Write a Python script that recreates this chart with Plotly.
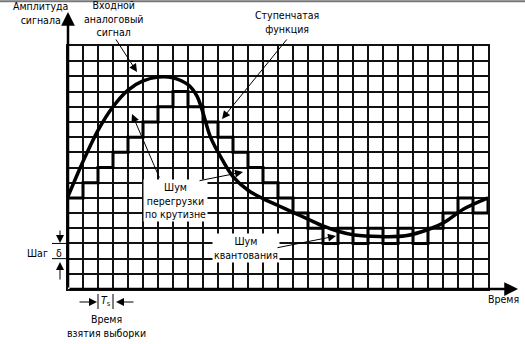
import plotly.graph_objects as go

# ---------------- data ----------------
n_cols = 28          # sampling intervals Ts
n_rows = 16          # quantisation steps (delta)
sample_index = list(range(29))
step_levels = [6, 7, 8, 9, 10, 11, 12, 13, 12, 11, 10, 9, 8, 7, 6, 5, 4, 3,
               4, 3, 4, 3, 4, 3, 4, 5, 6, 5, 6]
signal_t = [0, 1, 2, 3, 4, 5, 6, 7, 8, 8.6, 9, 9.5, 10.35, 11, 12, 13, 14, 15,
            16, 17, 18, 19.1, 20.8, 22.5, 24.1, 25.1, 26.35, 28]
signal_amp = [6.1, 8.4, 10.45, 12.0, 13.1, 13.7, 13.95, 13.9, 13.45, 12.7, 11.6,
              10.0, 8.4, 7.4, 6.5, 5.95, 5.5, 5.05, 4.6, 4.15, 3.8, 3.55, 3.45,
              3.5, 3.95, 4.4, 5.25, 6.0]

# ---------------- geometry helpers (pixels -> paper) ----------------
L, T, W, H = 68, 46, 420, 243
FONT = "Liberation Sans Narrow, DejaVu Sans Condensed, Liberation Sans, Arial"


def px(x):
    return (x - L) / W


def py(y):
    return (T + H - y) / H


fig = go.Figure()
fig.add_trace(go.Scatter(x=signal_t, y=signal_amp, mode="lines",
                         line=dict(color="black", width=3.5, shape="spline", smoothing=0.9),
                         hoverinfo="skip", showlegend=False))
fig.add_trace(go.Scatter(x=sample_index, y=step_levels, mode="lines",
                         line=dict(color="black", width=3, shape="hv"),
                         hoverinfo="skip", showlegend=False))

ax_common = dict(showgrid=True, gridcolor="#111111", gridwidth=1.5, dtick=1,
                 showticklabels=False, ticks="", zeroline=False, showline=True,
                 mirror=True, linecolor="#111111", linewidth=1.6)
fig.update_xaxes(range=[0, n_cols], tick0=0, **ax_common)
fig.update_yaxes(range=[0, n_rows], tick0=0, **ax_common)

anns = []


def text(t, x, y, size=10.5, bg=None):
    d = dict(text=t, x=px(x), y=py(y), xref="paper", yref="paper", showarrow=False,
             xanchor="center", yanchor="middle",
             font=dict(family=FONT, size=size, color="black"))
    if bg:
        d.update(bgcolor=bg, borderpad=1)
    anns.append(d)


def arrow(x0, y0, x1, y1, width=1, size=1.6, head=2):
    anns.append(dict(text="", x=px(x1), y=py(y1), xref="paper", yref="paper",
                     axref="pixel", ayref="pixel", ax=x0 - x1, ay=y0 - y1,
                     showarrow=True, arrowhead=head, arrowsize=size,
                     arrowwidth=width, arrowcolor="black", standoff=0))


# labels
text("Амплитуда<br>сигнала", 40, 13)
text("Входной<br>аналоговый<br>сигнал", 113, 19)
text("Ступенчатая<br>функция", 287, 22)
text("Шум<br>перегрузки<br>по крутизне", 175, 200, bg="white")
text("Шум<br>квантования", 246, 248, bg="white")
text("Шаг", 37, 253)
text("δ", 59, 253)
text("<i>T</i><sub>s</sub>", 106, 301)
text("Время<br>взятия выборки", 106, 326)
text("Время", 503, 299)

# pointer arrows
arrow(115, 38, 137, 72)
arrow(288, 38, 222, 119)
arrow(160, 179, 132, 114)
arrow(198, 181, 243, 172)
arrow(276, 248, 336, 236)
# delta arrows
arrow(60, 229, 60, 243)
arrow(60, 281, 60, 262)
# Ts arrows
arrow(78, 302, 97, 302)
arrow(135, 302, 116, 302)
# axes with arrows
arrow(68, 289, 68, 12, width=2.5, size=1.1)
arrow(68, 289, 518, 289, width=2.5, size=1.1)

shapes = []


def seg(x0, y0, x1, y1, color="black", width=1):
    shapes.append(dict(type="line", xref="paper", yref="paper",
                       x0=px(x0), y0=py(y0), x1=px(x1), y1=py(y1),
                       line=dict(color=color, width=width)))


row_h = H / n_rows
seg(52, 289 - 2 * row_h, 68, 289 - 2 * row_h)
seg(52, 289 - 3 * row_h, 68, 289 - 3 * row_h)
seg(68 + 2 * 15, 294, 68 + 2 * 15, 309)
seg(68 + 3 * 15, 294, 68 + 3 * 15, 309)
seg(0, 1.2, 525, 1.2, color="#777", width=2)

fig.update_layout(width=525, height=344, margin=dict(l=L, r=525 - L - W, t=T, b=344 - T - H, pad=0),
                  paper_bgcolor="white", plot_bgcolor="white",
                  annotations=anns, shapes=shapes, showlegend=False)

fig.write_html("out.html")
